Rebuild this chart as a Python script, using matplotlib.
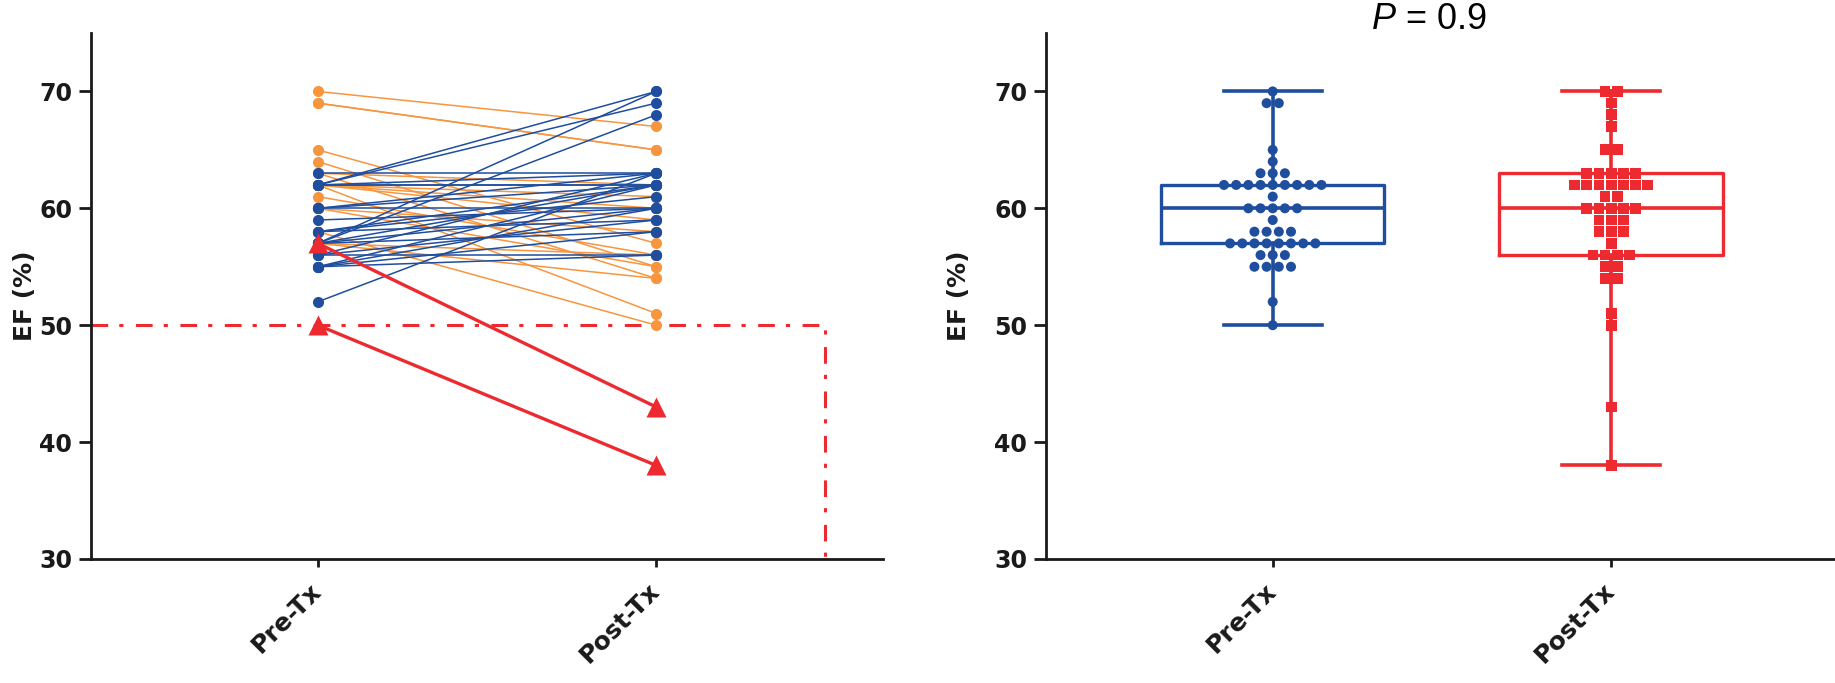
import matplotlib.pyplot as plt
import matplotlib.transforms as mtransforms

plt.rcParams['font.family'] = 'DejaVu Sans'
plt.rcParams['lines.scale_dashes'] = False
plt.rcParams['mathtext.fontset'] = 'custom'
plt.rcParams['mathtext.it'] = 'Liberation Sans:italic'
plt.rcParams['mathtext.rm'] = 'Liberation Sans'

groups = ['Pre-Tx', 'Post-Tx']

# paired EF values (patients staying >= 50 %)
pre_ef = [70, 69, 69, 65, 64, 63, 63, 63, 62, 62, 62, 62, 62, 62, 62, 62, 62,
          61, 60, 60, 60, 60, 60, 59, 58, 58, 58, 58, 57, 57, 57, 57, 57, 57,
          57, 56, 56, 56, 55, 55, 55, 55, 52]
post_ef = [67, 65, 65, 57, 55, 63, 54, 62, 70, 69, 62, 62, 61, 60, 59, 51, 63,
           56, 60, 62, 58, 55, 63, 60, 62, 50, 59, 61, 70, 68, 60, 62, 54, 56,
           58, 63, 59, 56, 60, 58, 56, 62, 63]
# patients dropping below 50 %
drop_pre = [57, 50]
drop_post = [43, 38]

threshold = 50
y_ticks = [30, 40, 50, 60, 70]
p_label = r'$\it{P}$ = 0.9'

blue = '#1F4E9E'
orange = '#F7963F'
red = '#EC2A30'

fig = plt.figure(figsize=(18.35, 6.83), dpi=100)
ax1 = fig.add_axes([0.0496, 0.1816, 0.4316, 0.7701])
ax2 = fig.add_axes([0.5700, 0.1816, 0.4316, 0.7701])

# ---- left panel: paired lines
for a, b in zip(pre_ef, post_ef):
    if b < a:
        ax1.plot([0, 1], [a, b], '-o', color=orange, lw=1.1, ms=8,
                 mec='none', zorder=2)
for a, b in zip(pre_ef, post_ef):
    if b >= a:
        ax1.plot([0, 1], [a, b], '-o', color=blue, lw=1.1, ms=8,
                 mec='none', zorder=3)
for a, b in zip(drop_pre, drop_post):
    ax1.plot([0, 1], [a, b], '-^', color=red, lw=2.4, ms=14,
             mec='none', zorder=4)

ax1.plot([-0.67, 1.5, 1.5], [threshold, threshold, 30], color=red, lw=2.2,
         ls=(0, (12, 8, 3, 9)), clip_on=False, zorder=1)

# ---- right panel: box + swarm
all_pre = pre_ef + drop_pre
all_post = post_ef + drop_post


def swarm_x(values, center, step=0.036):
    xs = []
    counts = {}
    for v in values:
        counts[v] = counts.get(v, 0) + 1
    seen = {}
    for v in values:
        i = seen.get(v, 0)
        seen[v] = i + 1
        n = counts[v]
        xs.append(center + (i - (n - 1) / 2) * step)
    return xs


bp = ax2.boxplot([all_pre, all_post], positions=[0, 1], widths=0.66,
                 whis=(0, 100), capwidths=0.29, showfliers=False,
                 manage_ticks=False)
for i, c in enumerate([blue, red]):
    bp['boxes'][i].set(color=c, lw=2.4)
    bp['medians'][i].set(color=c, lw=2.6)
    for k in (2 * i, 2 * i + 1):
        bp['whiskers'][k].set(color=c, lw=2.6)
        bp['caps'][k].set(color=c, lw=2.6)

ax2.scatter(swarm_x(all_pre, 0), all_pre, s=52, color=blue, marker='o',
            edgecolors='none', zorder=3)
ax2.scatter(swarm_x(all_post, 1), all_post, s=60, color=red, marker='s',
            edgecolors='none', zorder=3)

trans = mtransforms.blended_transform_factory(ax2.transData, ax2.transAxes)
ax2.text(0.46, 1.025, p_label, transform=trans, ha='center', va='center',
         fontsize=26, family='Liberation Sans')

# ---- shared axis styling
for ax, lab_x in ((ax1, -0.068), (ax2, -0.095)):
    ax.set_xlim(-0.67, 1.67)
    ax.set_ylim(30, 75)
    ax.spines['top'].set_visible(False)
    ax.spines['right'].set_visible(False)
    for s in ('left', 'bottom'):
        ax.spines[s].set_linewidth(2.0)
        ax.spines[s].set_color('#1a1a1a')
    ax.set_yticks(y_ticks)
    ax.set_xticks([0, 1])
    ax.set_xticklabels(groups, rotation=45, ha='right', va='center',
                       rotation_mode='anchor')
    ax.tick_params(axis='y', length=8.5, width=2, pad=5, labelsize=17,
                   color='#1a1a1a')
    ax.tick_params(axis='x', length=6, width=2, pad=14, labelsize=18,
                   color='#1a1a1a')
    for lab in ax.get_xticklabels() + ax.get_yticklabels():
        lab.set_fontweight('bold')
        lab.set_color('#1a1a1a')
    ax.set_ylabel('EF (%)', fontsize=18, fontweight='bold', color='#1a1a1a')
    ax.yaxis.set_label_coords(lab_x, 0.5)

fig.savefig('out.png', dpi=100)
